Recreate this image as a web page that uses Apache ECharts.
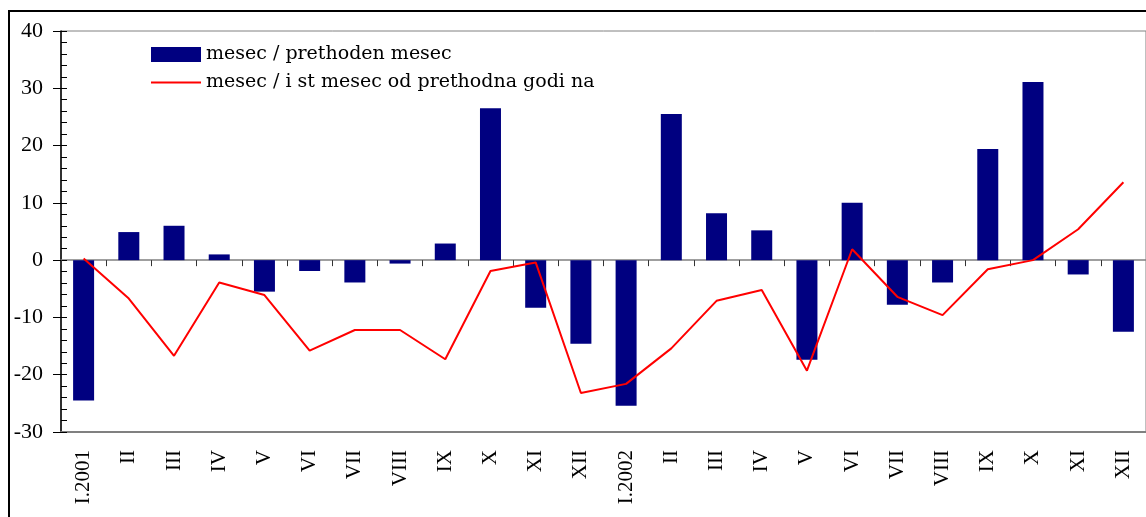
<!DOCTYPE html>
<html>
<head>
<meta charset="utf-8">
<script src="https://cdn.jsdelivr.net/npm/echarts@6/dist/echarts.min.js"></script>
<style>
  html, body { margin: 0; padding: 0; background: #fff; }
  #main { width: 1146px; height: 517px; }
</style>
</head>
<body>
<div id="main"></div>
<script>
// categories (months 2001-2002)
var months = ['I.2001', 'II', 'III', 'IV', 'V', 'VI', 'VII', 'VIII', 'IX', 'X', 'XI', 'XII',
  'I.2002', 'II', 'III', 'IV', 'V', 'VI', 'VII', 'VIII', 'IX', 'X', 'XI', 'XII']

// mesec / prethoden mesec
var prevMonth = [-24.5, 4.9, 6.0, 1.0, -5.5, -1.9, -3.9, -0.6, 2.9, 26.5, -8.3, -14.6,
  -25.4, 25.5, 8.2, 5.2, -17.4, 10.0, -7.8, -3.9, 19.4, 31.1, -2.5, -12.5]

// mesec / ist mesec od prethodna godina
var sameMonthPrevYear = [0.3, -6.7, -16.7, -3.9, -6.1, -15.8, -12.2, -12.2, -17.3, -1.9, -0.4, -23.2,
  -21.6, -15.4, -7.1, -5.2, -19.3, 1.9, -6.4, -9.6, -1.6, 0.0, 5.4, 13.6]

var yMin = -30
var yMax = 40

var serif = '"Liberation Serif", "DejaVu Serif", serif'

var myChart = echarts.init(document.getElementById('main'))

var option = {
  animation: false,
  backgroundColor: '#fff',
  graphic: [
    {
      type: 'rect',
      shape: { x: 9, y: 11, width: 1200, height: 600 },
      style: { fill: 'none', stroke: '#000', lineWidth: 2 },
      z: 100
    }
  ],
  legend: {
    orient: 'vertical',
    left: 151,
    top: 45,
    padding: 0,
    itemWidth: 50,
    itemHeight: 15,
    itemGap: 9,
    textStyle: { fontFamily: '"DejaVu Serif", serif', fontSize: 19, lineHeight: 15, color: '#000' },
    data: [
      { name: 'mesec / prethoden mesec', icon: 'rect' },
      { name: 'mesec / i st mesec od prethodna godi na', icon: 'path://M0,0 L50,0 L50,2 L0,2 Z' }
    ]
  },
  grid: {
    left: 61,
    top: 31,
    width: 1090,
    height: 401,
    show: true,
    borderColor: '#808080',
    borderWidth: 1
  },
  xAxis: [
    {
      type: 'category',
      data: months,
      position: 'bottom',
      axisLine: { onZero: true, lineStyle: { color: '#808080', width: 1.5 } },
      axisTick: { show: true, length: 6, lineStyle: { color: '#333' } },
      axisLabel: { show: false },
      splitLine: { show: false }
    },
    {
      type: 'category',
      data: months,
      position: 'bottom',
      axisLine: { onZero: false, lineStyle: { color: '#808080', width: 2 } },
      axisTick: { show: false },
      axisLabel: {
        rotate: 90,
        margin: 18,
        fontFamily: serif,
        fontSize: 21,
        color: '#000'
      },
      splitLine: { show: false }
    }
  ],
  yAxis: [
    {
      type: 'value',
      min: yMin,
      max: yMax,
      interval: 10,
      position: 'left',
      axisLine: { show: true, lineStyle: { color: '#000', width: 1.5 } },
      axisTick: { show: true, length: 8, lineStyle: { color: '#000' } },
      axisLabel: { margin: 18, fontFamily: serif, fontSize: 22, color: '#000' },
      splitLine: { show: false }
    },
    {
      // inner minor ticks
      type: 'value',
      min: yMin,
      max: yMax,
      interval: 2,
      position: 'left',
      offset: 0,
      axisLine: { show: false },
      axisTick: { show: true, inside: true, length: 6, lineStyle: { color: '#000' } },
      axisLabel: { show: false },
      splitLine: { show: false }
    }
  ],
  series: [
    {
      name: 'mesec / prethoden mesec',
      type: 'bar',
      xAxisIndex: 0,
      yAxisIndex: 0,
      data: prevMonth,
      barWidth: 21,
      itemStyle: { color: '#000080' }
    },
    {
      name: 'mesec / i st mesec od prethodna godi na',
      type: 'line',
      xAxisIndex: 0,
      yAxisIndex: 0,
      data: sameMonthPrevYear,
      symbol: 'none',
      color: '#ff0000',
      lineStyle: { color: '#ff0000', width: 2 },
      z: 5
    }
  ]
}

myChart.setOption(option)
</script>
</body>
</html>
